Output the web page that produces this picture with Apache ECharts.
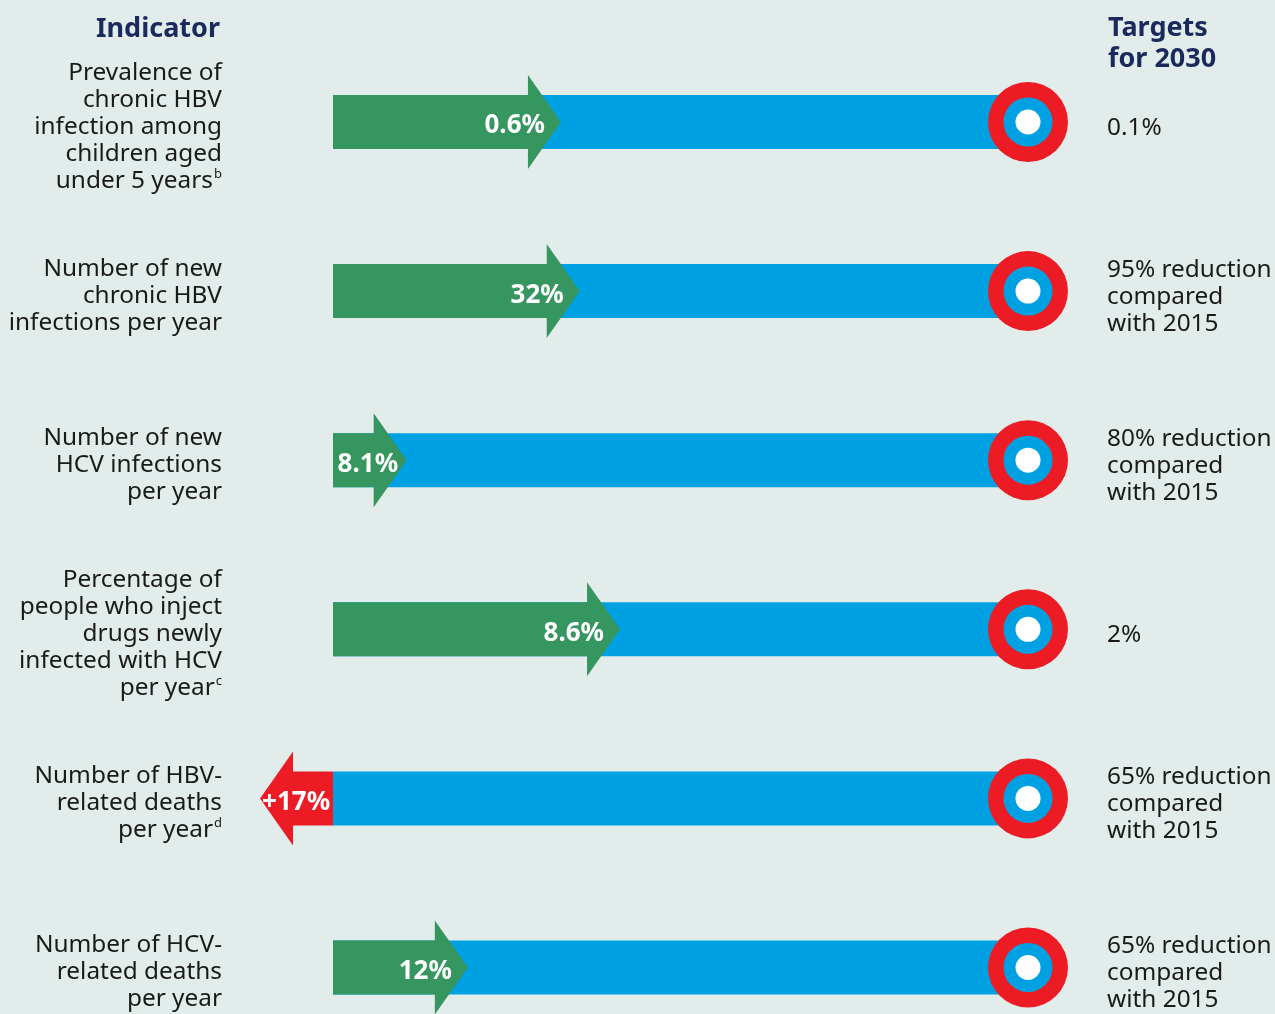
<!DOCTYPE html>
<html><head><meta charset="utf-8">
<script src="https://cdn.jsdelivr.net/npm/echarts@6/dist/echarts.min.js"></script>
<style>html,body{margin:0;padding:0;background:#e2ecea}#c{width:1275px;height:1014px}</style>
</head><body><div id="c"></div>
<script>
// Indicator names (left column)
const categories = [
  'Prevalence of\nchronic HBV\ninfection among\nchildren aged\nunder 5 years',
  'Number of new\nchronic HBV\ninfections per year',
  'Number of new\nHCV infections\nper year',
  'Percentage of\npeople who inject\ndrugs newly\ninfected with HCV\nper year',
  'Number of HBV-\nrelated deaths\nper year',
  'Number of HCV-\nrelated deaths\nper year'
];
const footnotes = ['b', '', '', 'c', 'd', ''];
// Achieved change shown on the arrows
const achieved = ['0.6%', '32%', '8.1%', '8.6%', '+17%', '12%'];
// Arrow tip position as share of the way to the 2030 target (negative = moving away)
const progress = [32.8, 35.5, 10.6, 41.3, -10.5, 19.4];
// Targets for 2030 (right column)
const targets = [
  '0.1%',
  '95% reduction\ncompared\nwith 2015',
  '80% reduction\ncompared\nwith 2015',
  '2%',
  '65% reduction\ncompared\nwith 2015',
  '65% reduction\ncompared\nwith 2015'
];

const GREEN = '#35965f', BLUE = '#00a1e2', RED = '#ed1c24', NAVY = '#1b2a5c';
const FONT = '"Noto Sans", "Open Sans", sans-serif';

const chart = echarts.init(document.getElementById('c'));
const rows = progress.map((p, i) => [p, i]);
const goal = progress.map((p, i) => [100, i]);

chart.setOption({
  backgroundColor: '#e2ecea',
  animation: false,
  grid: { left: 333, right: 247, top: 122, bottom: 44 },
  xAxis: { type: 'value', min: 0, max: 100, show: false },
  yAxis: [
    {
      type: 'category', data: categories, inverse: true, boundaryGap: false,
      position: 'left', axisLine: { show: false }, axisTick: { show: false }, splitLine: { show: false },
      axisLabel: {
        margin: 111, align: 'right', color: '#1a1a1a', fontFamily: FONT, fontSize: 24.4, lineHeight: 27,
        padding: [10, 0, 0, 0],
        formatter: (v, i) => v + (footnotes[i] ? '{sup|' + footnotes[i] + '}' : ''),
        rich: { sup: { fontSize: 13, lineHeight: 27, verticalAlign: 'top', fontFamily: FONT, color: '#1a1a1a', padding: [0, 0, 6, 1] } }
      }
    },
    {
      type: 'category', data: categories, inverse: true, boundaryGap: false,
      position: 'right', axisLine: { show: false }, axisTick: { show: false }, splitLine: { show: false },
      axisLabel: {
        margin: 79, align: 'left', color: '#1a1a1a', fontFamily: FONT, fontSize: 24.4, lineHeight: 27,
        padding: [12, 0, 0, 0],
        formatter: (v, i) => targets[i],
        rich: { t: { fontFamily: FONT } }
      }
    }
  ],
  graphic: [
    { type: 'text', style: { text: 'Indicator', x: 220, y: 29, align: 'right', verticalAlign: 'middle',
      fill: NAVY, font: 'bold 27px ' + FONT } },
    { type: 'text', style: { text: 'Targets\nfor 2030', x: 1108, y: 13, align: 'left', verticalAlign: 'top',
      fill: NAVY, font: 'bold 27px ' + FONT, lineHeight: 31 } }
  ],
  series: [
    {
      type: 'custom', clip: false, encode: { x: 0, y: 1 }, data: rows, z: 2,
      renderItem(params, api) {
        const p = api.value(0), i = api.value(1);
        const s = api.coord([0, i]), e = api.coord([100, i]), t = api.coord([p, i]);
        const x0 = s[0], y = s[1], tip = t[0];
        const bh = 27, hh = 47, hl = 33;
        const base = p >= 0 ? tip - hl : tip + hl;
        const pts = [[x0, y - bh], [base, y - bh], [base, y - hh], [tip, y], [base, y + hh], [base, y + bh], [x0, y + bh]];
        let tx, align;
        if (p < 0) { tx = tip + 2; align = 'left'; }
        else if (tip - x0 < 110) { tx = (x0 + tip) / 2 - 2; align = 'center'; }
        else { tx = tip - 16; align = 'right'; }
        return {
          type: 'group',
          children: [
            { type: 'rect', shape: { x: x0, y: y - bh, width: e[0] - x0, height: bh * 2 }, style: { fill: BLUE } },
            { type: 'polygon', shape: { points: pts }, style: { fill: p >= 0 ? GREEN : RED } },
            { type: 'text', style: { text: achieved[i], x: tx, y: y + 4, align: align, verticalAlign: 'middle',
              fill: '#ffffff', font: 'bold 26px ' + FONT } }
          ]
        };
      }
    },
    { type: 'scatter', data: goal, symbol: 'circle', symbolSize: 80, itemStyle: { color: RED, opacity: 1 }, z: 3, silent: true },
    { type: 'scatter', data: goal, symbol: 'circle', symbolSize: 49, itemStyle: { color: BLUE, opacity: 1 }, z: 4, silent: true },
    { type: 'scatter', data: goal, symbol: 'circle', symbolSize: 25, itemStyle: { color: '#ffffff', opacity: 1 }, z: 5, silent: true }
  ]
});
</script>
</body></html>
